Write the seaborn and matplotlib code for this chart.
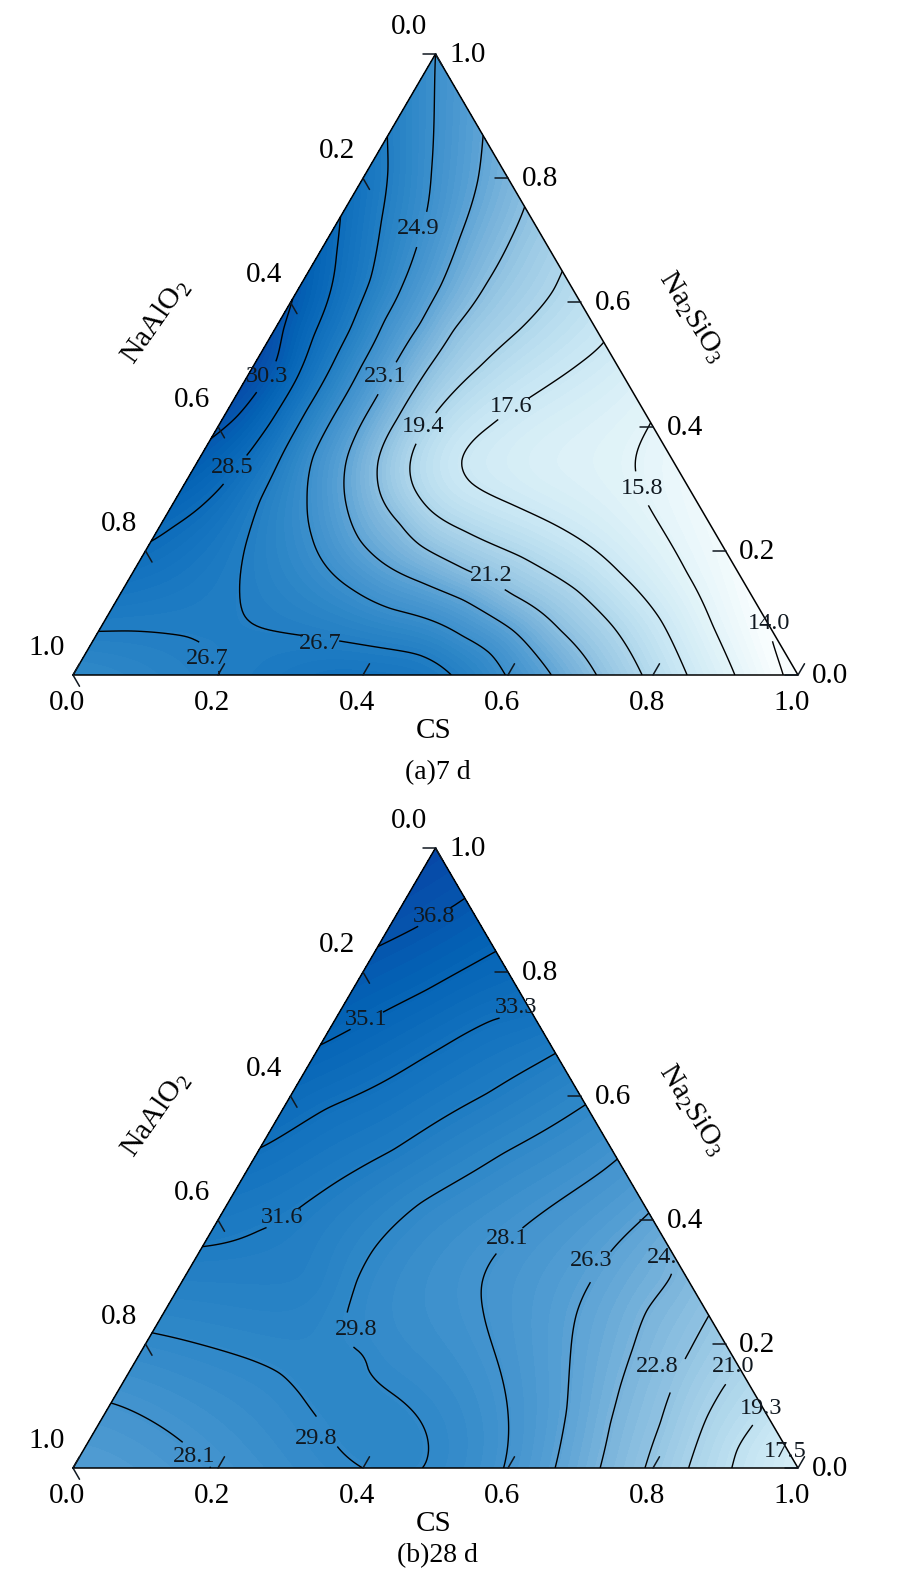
import numpy as np
import matplotlib
matplotlib.use("Agg")
import matplotlib.pyplot as plt
import matplotlib.tri as mtri
import seaborn as sns

# ---------- data (CS and Na2SiO3 fractions along each iso-line) ----------
A_LINE_LEVEL = [30.3, 28.5, 26.7, 26.7, 24.9, 23.1, 21.2, 19.4, 17.6, 15.8, 14.0]
A_LINE_CS = [
    [0, .012, .028, .025, .018, 0],
    [0, .024, .051, .059, .068, .069, .064, .053, .038, .019, 0],
    [0, .028, .059, .092, .104, .108, .109, .111, .117, .134, .164, .194, .225, .281, .344, .426, .463, .492, .522],
    [0, .043, .101, .126, .150, .186, .202],
    [0, .051, .088, .116, .130, .140, .144, .149, .151, .155, .182, .218, .263, .318, .384, .432, .507, .558, .596],
    [.132, .160, .181, .194, .196, .194, .195, .198, .212, .242, .287, .338, .404, .478, .571, .660],
    [.247, .253, .255, .247, .243, .241, .248, .277, .329, .374, .458, .542, .636, .722],
    [.350, .353, .338, .313, .290, .287, .297, .318, .359, .422, .522, .626, .706, .785],
    [.464, .448, .410, .375, .363, .392, .465, .572, .673, .766, .847],
    [.594, .599, .614, .662, .765, .844, .913],
    [.917, .940, .980],
]
A_LINE_NA = [
    [.607, .556, .505, .451, .416, .381],
    [.738, .679, .598, .545, .494, .405, .360, .303, .266, .239, .215],
    [.867, .813, .733, .636, .556, .497, .427, .357, .282, .207, .132, .091, .075, .064, .054, .040, .032, .019, 0],
    [.070, .071, .066, .062, .051, .024, 0],
    [1.0, .894, .813, .743, .687, .631, .572, .497, .416, .352, .282, .223, .174, .137, .107, .094, .062, .035, 0],
    [.867, .797, .706, .625, .566, .505, .448, .378, .325, .271, .217, .180, .150, .121, .072, 0],
    [.749, .700, .631, .556, .494, .411, .346, .293, .244, .209, .169, .129, .072, 0],
    [.647, .620, .556, .497, .427, .370, .335, .303, .266, .233, .191, .137, .078, 0],
    [.534, .502, .451, .401, .346, .311, .276, .228, .164, .089, 0],
    [.403, .357, .325, .268, .164, .078, 0],
    [.083, .051, 0],
]
A_EXTRA_CS = [0, 0, .36, .48, .80, 1.0]
A_EXTRA_NA = [.49, 0, 0, .33, .20, 0]
A_EXTRA_VAL = [31.2, 25.7, 27.6, 16.6, 14.7, 13.4]
A_LABEL_TEXT = {30.3: "30.3", 28.5: "28.5", 26.7: "26.7", 24.9: "24.9", 23.1: "23.1",
                21.2: "21.2", 19.4: "19.4", 17.6: "17.6", 15.8: "15.8", 14.0: "14.0"}
A_LABEL_CS = [.027, .053, .171, .316, .117, .190, .497, .283, .389, .635, .918]
A_LABEL_NA = [.480, .334, .027, .050, .719, .480, .161, .400, .432, .301, .083]

B_LINE_LEVEL = [36.8, 35.1, 33.3, 31.6, 29.8, 29.8, 28.1, 28.1, 26.3, 24.5, 22.8, 21.0, 19.3, 17.5]
B_LINE_CS = [
    [0, .033, .073, .081],
    [0, .025, .070, .102, .133, .166],
    [0, .060, .126, .150, .186, .218, .261],
    [.331, .269, .208, .185, .151, .107, .066, .034, 0],
    [.413, .340, .316, .265, .249, .238, .240, .253, .288, .326, .389, .440, .470, .483],
    [0, .070, .151, .209, .253, .307, .354, .400],
    [0, .062, .125, .190],
    [.501, .492, .432, .410, .415, .438, .510, .556, .580, .594],
    [.589, .568, .564, .570, .596, .634, .665],
    [.662, .671, .664, .675, .689, .705, .727],
    [.754, .756, .758, .761, .774, .789],
    [.837, .832, .833, .849],
    [.906, .903, .901, .909],
    [.965, .975],
]
B_LINE_NA = [
    [.841, .868, .908, .919],
    [.682, .704, .744, .771, .801, .833],
    [.516, .580, .632, .658, .696, .723, .739],
    [.669, .604, .541, .513, .481, .427, .384, .365, .357],
    [.585, .508, .481, .427, .395, .352, .303, .249, .193, .158, .115, .077, .040, 0],
    [.218, .201, .177, .153, .120, .072, .029, 0],
    [.105, .080, .045, 0],
    [.497, .481, .397, .340, .298, .255, .158, .088, .040, 0],
    [.411, .354, .303, .249, .180, .094, 0],
    [.338, .309, .255, .196, .131, .072, 0],
    [.244, .190, .153, .134, .072, 0],
    [.163, .132, .083, 0],
    [.094, .066, .029, 0],
    [.035, 0],
]
B_EXTRA_CS = [0, 0, 1.0, .18, .30, .38]
B_EXTRA_NA = [1.0, 0, 0, .30, .17, .07]
B_EXTRA_VAL = [38.2, 26.9, 16.9, 30.8, 30.2, 30.1]
B_LABEL_TEXT = {36.8: "36.8", 35.1: "35.1", 33.3: "33.3", 31.6: "31.6", 29.8: "29.8", 28.1: "28.1",
                26.3: "26.3", 24.5: "24.", 22.8: "22.8", 21.0: "21.0", 19.3: "19.3", 17.5: "17.5"}
B_LABEL_CS = [.053, .043, .239, .086, .279, .312, .158, .414, .548, .643, .724, .829, .901, .969]
B_LABEL_NA = [.889, .723, .743, .404, .224, .048, .018, .370, .334, .340, .163, .163, .096, .026]

TICKS = [0.0, 0.2, 0.4, 0.6, 0.8, 1.0]
PALETTE = ["#f8fdfe", "#dff2f8", "#c6e5f3", "#a5d0e8", "#7db6dc", "#4f9bd2",
           "#2f88c8", "#1675c0", "#0463b5", "#0747a6"]

# ---------- style ----------
sns.set_theme(style="white")
plt.rcParams["font.family"] = ["Liberation Serif", "DejaVu Serif"]
plt.rcParams["mathtext.fontset"] = "custom"
plt.rcParams["mathtext.rm"] = "Liberation Serif"
plt.rcParams["text.color"] = "black"
cmap = sns.blend_palette(PALETTE, n_colors=256, as_cmap=True)

W, H = 908, 1579
fig = plt.figure(figsize=(W / 100, H / 100), dpi=100)


def to_xy(cs, na):
    cs, na = np.asarray(cs, float), np.asarray(na, float)
    return cs + na / 2, na


def thin_plate(px, py, pv, qx, qy, smooth=2.5e-4):
    # surface through the read-off points, in equilateral proportions
    k = np.sqrt(3) / 2
    def kernel(ax_, ay_, bx_, by_):
        r2 = (ax_[:, None] - bx_[None, :]) ** 2 + (k * (ay_[:, None] - by_[None, :])) ** 2
        return 0.5 * r2 * np.log(r2 + 1e-12)
    n = len(px)
    P = np.c_[np.ones(n), px, py]
    A = np.zeros((n + 3, n + 3))
    A[:n, :n] = kernel(px, py, px, py) + smooth * np.eye(n)
    A[:n, n:] = P
    A[n:, :n] = P.T
    sol = np.linalg.lstsq(A, np.r_[pv, np.zeros(3)], rcond=None)[0]
    out = np.empty(len(qx))
    for i in range(0, len(qx), 4000):
        j = i + 4000
        out[i:j] = kernel(qx[i:j], qy[i:j], px, py) @ sol[:n] + np.c_[np.ones(len(qx[i:j])), qx[i:j], qy[i:j]] @ sol[n:]
    return out


def panel(top_px, base_px, line_level, line_cs, line_na, ex_cs, ex_na, ex_val,
          label_text, label_cs, label_na, caption, caption_dy, vmin, vmax):
    left, right = 73, 798
    ax = fig.add_axes([left / W, 1 - base_px / H, (right - left) / W, (base_px - top_px) / H])
    ax.set_xlim(0, 1)
    ax.set_ylim(0, 1)
    ax.axis("off")
    hpx = base_px - top_px
    wpx = right - left

    cs_all = np.r_[np.concatenate(line_cs), ex_cs]
    na_all = np.r_[np.concatenate(line_na), ex_na]
    val_all = np.r_[np.concatenate([[lv] * len(c) for lv, c in zip(line_level, line_cs)]), ex_val]
    px, py = to_xy(cs_all, na_all)

    n = 220
    ii, jj = np.meshgrid(np.arange(n + 1), np.arange(n + 1))
    mask = ii + jj <= n
    gx, gy = to_xy(ii[mask] / n, jj[mask] / n)
    gv = thin_plate(px, py, val_all, gx, gy)
    tri = mtri.Triangulation(gx, gy)

    ax.tricontourf(tri, gv, levels=np.linspace(vmin, vmax, 70), cmap=cmap, extend="both")
    levels = sorted(set(line_level))
    cl = ax.tricontour(tri, gv, levels=levels, colors="black", linewidths=1.0)
    lx, ly = to_xy(label_cs, label_na)
    texts = ax.clabel(cl, fmt=label_text, fontsize=17.5, inline=True, inline_spacing=-3,
                      manual=list(zip(lx, ly)))
    for t, x, y in zip(texts, lx, ly):
        t.set_rotation(0)
        t.set_color("#101820")
        t.set_position((x, y))
        t.set_clip_on(False)

    ex, ey = to_xy([0, 1, 0, 0], [0, 0, 1, 0])
    ax.plot(ex, ey, color="black", lw=1.1, clip_on=False, solid_joinstyle="miter")

    tl = 13.0
    style = dict(color="#101820", lw=1.1, clip_on=False)
    for t in TICKS:
        lab = f"{t:.1f}"
        # CS along the base: ticks lean up and to the right
        x0, y0 = to_xy(t, 0)
        ax.plot([x0, x0 + .5 * tl / wpx], [y0, y0 + .866 * tl / hpx], **style)
        ax.annotate(lab, (x0, y0), xytext=(-6, -28), textcoords="offset pixels",
                    ha="center", va="center", fontsize=21, annotation_clip=False)
        # NaAlO2 along the left edge: ticks lean down and to the right
        x0, y0 = to_xy(0, 1 - t)
        ax.plot([x0, x0 + .5 * tl / wpx], [y0, y0 - .866 * tl / hpx], **style)
        ax.annotate(lab, (x0, y0), xytext=(-26, 27), textcoords="offset pixels",
                    ha="center", va="center", fontsize=21, annotation_clip=False)
        # Na2SiO3 along the right edge: ticks run to the left
        x0, y0 = to_xy(1 - t, t)
        ax.plot([x0, x0 - tl / wpx], [y0, y0], **style)
        ax.annotate(lab, (x0, y0), xytext=(32, -1), textcoords="offset pixels",
                    ha="center", va="center", fontsize=21, annotation_clip=False)

    ax.annotate("CS", (0.5, 0), xytext=(-2, -56), textcoords="offset pixels",
                ha="center", va="center", fontsize=21, annotation_clip=False)
    ax.annotate(caption, (0.5, 0), xytext=(2, -caption_dy), textcoords="offset pixels",
                ha="center", va="center", fontsize=20, annotation_clip=False)
    ax.annotate(r"NaAlO$_{\mathrm{2}}$", (0.25, 0.5), xytext=(-98, 43), textcoords="offset pixels",
                ha="center", va="center", fontsize=21.5, rotation=55, annotation_clip=False)
    ax.annotate(r"Na$_{\mathrm{2}}$SiO$_{\mathrm{3}}$", (0.75, 0.5), xytext=(75, 48), textcoords="offset pixels",
                ha="center", va="center", fontsize=21, rotation=-58, annotation_clip=False)


panel(54, 675, A_LINE_LEVEL, A_LINE_CS, A_LINE_NA, A_EXTRA_CS, A_EXTRA_NA, A_EXTRA_VAL,
      A_LABEL_TEXT, A_LABEL_CS, A_LABEL_NA, "(a)7 d", 98, 14.2, 31.5)
panel(848, 1468, B_LINE_LEVEL, B_LINE_CS, B_LINE_NA, B_EXTRA_CS, B_EXTRA_NA, B_EXTRA_VAL,
      B_LABEL_TEXT, B_LABEL_CS, B_LABEL_NA, "(b)28 d", 88, 13.0, 38.3)

fig.savefig("out.png", dpi=100, facecolor="white")
